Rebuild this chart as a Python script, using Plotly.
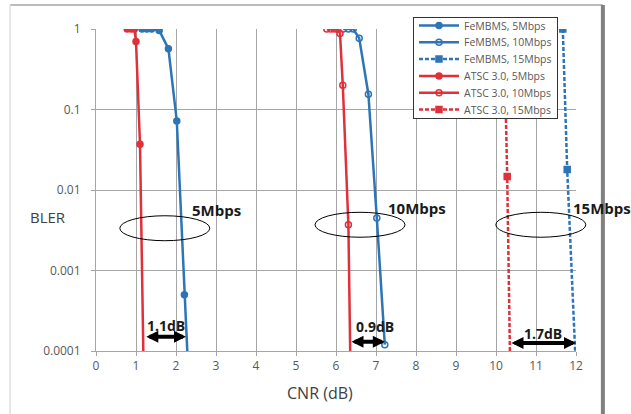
import numpy as np
import plotly.graph_objects as go

# ---------------- data ----------------
fem5_x = [1.15, 1.27, 1.39, 1.58, 1.81, 2.02, 2.21, 2.33]
fem5_y = [1, 1, 1, 0.96, 0.57, 0.072, 0.0005, 0.00003]

fem10_x = [6.18, 6.31, 6.43, 6.58, 6.81, 7.02, 7.22]
fem10_y = [1, 1, 1, 0.77, 0.155, 0.0045, 0.00012]

fem15_x = [11.67, 11.78, 12.04]
fem15_y = [1, 0.018, 0.00002]

atsc5_x = [0.78, 0.88, 0.96, 1.0, 1.1, 1.2]
atsc5_y = [1, 1, 1, 0.7, 0.037, 0.00003]

atsc10_x = [5.77, 5.87, 5.96, 6.04, 6.1, 6.17, 6.31, 6.37]
atsc10_y = [1, 1, 1, 1, 0.88, 0.2, 0.0037, 0.00003]

atsc15_x = [10.2, 10.28, 10.37]
atsc15_y = [1, 0.0147, 0.00002]

# group labels (rate) with ellipse centres
group_labels = ["5Mbps", "10Mbps", "15Mbps"]
group_label_x = [3.0, 8.02, 12.65]
group_label_y = [0.0056, 0.0059, 0.0059]
ellipse_cx = [1.72, 6.6, 11.12]
ellipse_cy = [0.00335, 0.0037, 0.0037]
ellipse_w = 2.25      # dB
ellipse_h = 0.31      # decades

# gain arrows
gain_labels = ["1.1dB", "0.9dB", "1.7dB"]
gain_x0 = [1.22, 6.35, 10.35]
gain_x1 = [2.25, 7.22, 12.0]
gain_y = [0.00015, 0.00013, 0.000126]
gain_label_x = [1.74, 6.97, 11.17]
gain_label_y = [0.000205, 0.0002, 0.000166]

x_ticks = list(range(0, 13))
y_tickvals = [1, 0.1, 0.01, 0.001, 0.0001]
y_ticktext = ["1", "0.1", "0.01", "0.001", "0.0001"]

X_MIN, X_MAX = 0, 12
Y_MIN, Y_MAX = -4, 0

BLUE = "#2E75B6"
RED = "#E0303A"

fig = go.Figure()

def add(name, x, y, color, symbol, dash):
    fig.add_trace(go.Scatter(
        x=x, y=y, name=name, mode="lines+markers",
        line=dict(color=color, width=2.5, dash=dash),
        marker=dict(symbol=symbol, size=6, color=color,
                    line=dict(color=color, width=1.5)),
    ))

add("FeMBMS, 5Mbps", fem5_x, fem5_y, BLUE, "circle", "solid")
add("FeMBMS, 10Mbps", fem10_x, fem10_y, BLUE, "circle-open", "solid")
add("FeMBMS, 15Mbps", fem15_x, fem15_y, BLUE, "square", "4px,2px")
add("ATSC 3.0, 5Mbps", atsc5_x, atsc5_y, RED, "circle", "solid")
add("ATSC 3.0, 10Mbps", atsc10_x, atsc10_y, RED, "circle-open", "solid")
add("ATSC 3.0, 15Mbps", atsc15_x, atsc15_y, RED, "square", "4px,2px")

shapes = []
annotations = []

def xp(v):
    return (v - X_MIN) / (X_MAX - X_MIN)

def yp(v):
    return (np.log10(v) - Y_MIN) / (Y_MAX - Y_MIN)

for cx, cy in zip(ellipse_cx, ellipse_cy):
    shapes.append(dict(
        type="circle", xref="paper", yref="paper",
        x0=xp(cx - ellipse_w / 2), x1=xp(cx + ellipse_w / 2),
        y0=(np.log10(cy) - ellipse_h / 2 - Y_MIN) / (Y_MAX - Y_MIN),
        y1=(np.log10(cy) + ellipse_h / 2 - Y_MIN) / (Y_MAX - Y_MIN),
        line=dict(color="black", width=1)))

for t, x, y in zip(group_labels, group_label_x, group_label_y):
    annotations.append(dict(
        x=xp(x), y=yp(y), xref="paper", yref="paper", text="<b>%s</b>" % t,
        xanchor="center", yanchor="middle",
        showarrow=False, font=dict(size=15, color="#1a1a1a", family="Open Sans")))

for t, x0, x1, y, lx, ly in zip(gain_labels, gain_x0, gain_x1, gain_y,
                                gain_label_x, gain_label_y):
    annotations.append(dict(
        x=x1, y=np.log10(y), ax=x0, ay=np.log10(y), xref="x", yref="y",
        axref="x", ayref="y", text="", showarrow=True,
        arrowhead=2, arrowside="end+start", arrowwidth=4, arrowsize=0.6,
        arrowcolor="black"))
    annotations.append(dict(
        x=lx, y=np.log10(ly), xref="x", yref="y", text="<b>%s</b>" % t,
        xanchor="center", yanchor="middle",
        showarrow=False, font=dict(size=14, color="#1a1a1a", family="Open Sans")))

# axis titles
annotations.append(dict(x=-0.1, y=0.416, xref="paper", yref="paper", text="BLER",
                        xanchor="center", yanchor="middle",
                        showarrow=False, font=dict(size=15, color="#404040", family="Open Sans")))
annotations.append(dict(x=0.467, y=-0.13, xref="paper", yref="paper", text="CNR (dB)",
                        xanchor="center", yanchor="middle",
                        showarrow=False, font=dict(size=16, color="#404040", family="Open Sans")))

# outer frame
shapes.append(dict(type="line", xref="paper", yref="paper", x0=-0.179, x1=1.056,
                   y0=1.0745, y1=1.0745, line=dict(color="#BBBBBB", width=2)))
shapes.append(dict(type="line", xref="paper", yref="paper", x0=-0.179, x1=-0.179,
                   y0=-0.2, y1=1.0745, line=dict(color="#DDDDDD", width=1.5)))
shapes.append(dict(type="line", xref="paper", yref="paper", x0=1.056, x1=1.056,
                   y0=-0.2, y1=1.0745, line=dict(color="#808080", width=4)))

fig.update_layout(
    width=631, height=414,
    margin=dict(l=96, r=55, t=29, b=63),
    paper_bgcolor="white", plot_bgcolor="white",
    font=dict(family="Open Sans", color="#595959"),
    shapes=shapes, annotations=annotations,
    legend=dict(x=0.6604, y=1.0373, xanchor="left", yanchor="top",
                bgcolor="white", bordercolor="#333333", borderwidth=1,
                font=dict(size=10.5, color="#595959", family="Open Sans"),
                tracegroupgap=0, itemwidth=40),
    showlegend=True,
)
fig.update_xaxes(range=[X_MIN, X_MAX], tickvals=x_ticks, showgrid=True,
                 gridcolor="#A6A6A6", gridwidth=1, showline=True, linecolor="#A6A6A6",
                 ticks="outside", ticklen=4, tickcolor="#A6A6A6",
                 tickfont=dict(size=12, color="#595959"), zeroline=False)
fig.update_yaxes(type="log", range=[Y_MIN, Y_MAX], tickvals=y_tickvals, ticktext=y_ticktext,
                 showgrid=True, gridcolor="#A6A6A6", gridwidth=1, showline=True,
                 linecolor="#A6A6A6", ticks="outside", ticklen=4, tickcolor="#A6A6A6",
                 tickfont=dict(size=12, color="#595959"), ticklabelstandoff=8,
                 zeroline=False)

# compact the legend rows (Excel-style 17px spacing) after rendering
post = """
document.body.style.margin='0';
var gd=document.getElementById('{plot_id}');
var items=gd.querySelectorAll('g.legend g.traces');
var y0=null;
for(var i=0;i<items.length;i++){
  var m=/translate\\(([-\\d.]+)[ ,]+([-\\d.]+)\\)/.exec(items[i].getAttribute('transform')||'');
  if(!m){continue;}
  if(y0===null){y0=parseFloat(m[2])-7;}
  items[i].setAttribute('transform','translate('+m[1]+','+(y0+i*16.8)+')');
}
var bg=gd.querySelector('g.legend rect.bg');
if(bg && y0!==null){bg.setAttribute('height','101');}
"""

fig.write_html("out.html", config={"displayModeBar": False}, post_script=post)
